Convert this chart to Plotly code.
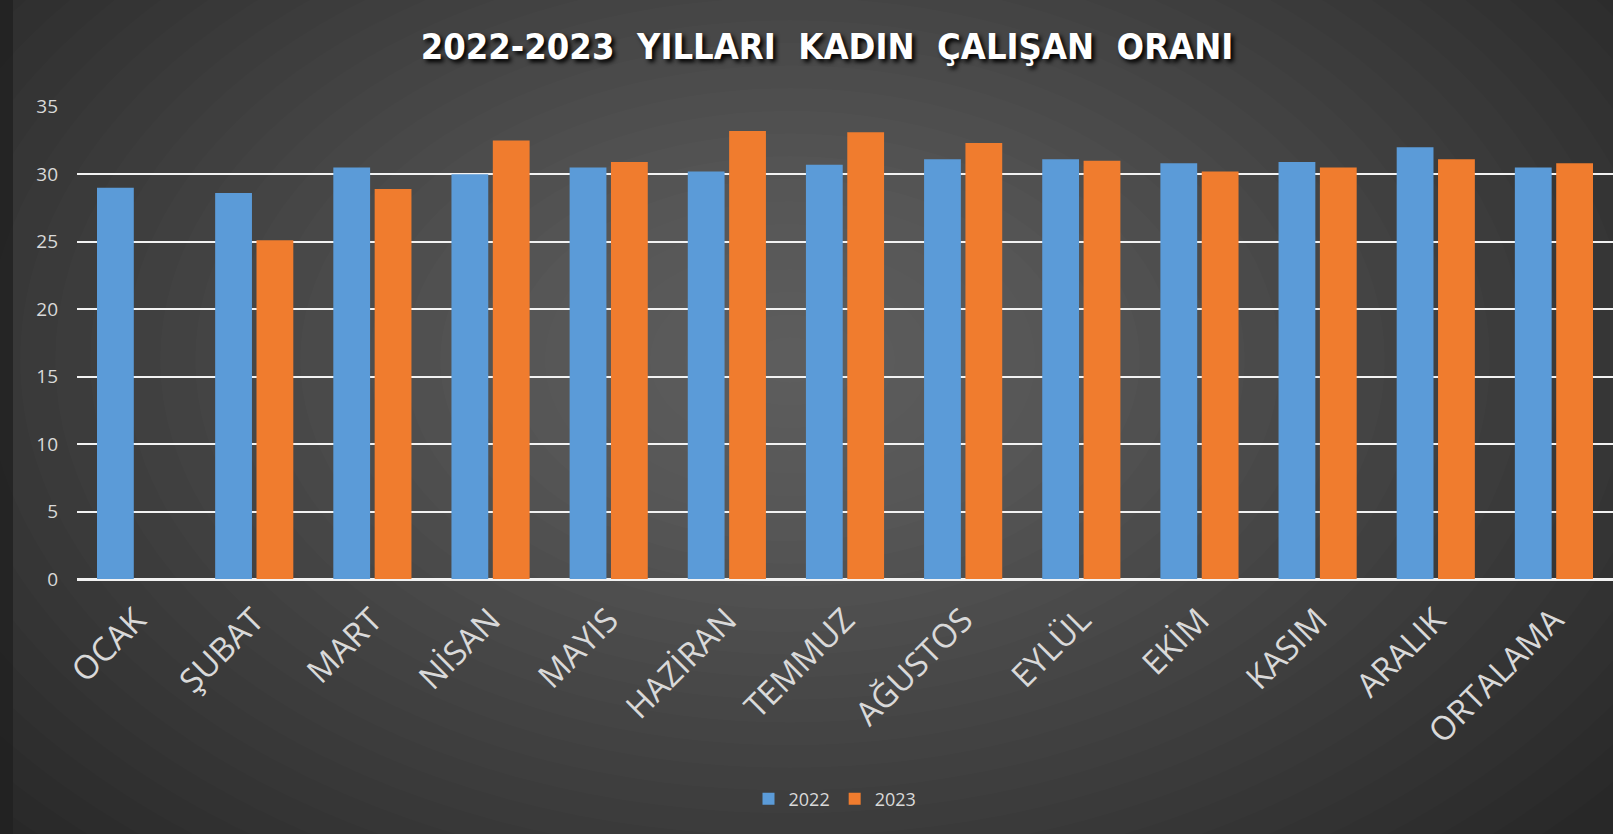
import plotly.graph_objects as go

# ---------------- DATA ----------------
months = ["OCAK", "ŞUBAT", "MART", "NİSAN", "MAYIS", "HAZİRAN", "TEMMUZ",
          "AĞUSTOS", "EYLÜL", "EKİM", "KASIM", "ARALIK", "ORTALAMA"]
rate_2022 = [29.0, 28.6, 30.5, 30.0, 30.5, 30.2, 30.7, 31.1, 31.1, 30.8, 30.9, 32.0, 30.5]
rate_2023 = [None, 25.1, 28.9, 32.5, 30.9, 33.2, 33.1, 32.3, 31.0, 30.2, 30.5, 31.1, 30.8]
y_ticks = [0, 5, 10, 15, 20, 25, 30, 35]

W, H = 1613, 834
L, R, T, B = 77, 0, 106, 255
PW, PH = W - L - R, H - T - B


def px(x):
    return (x - L) / PW


def py(y):
    return (H - B - y) / PH


fig = go.Figure()

fig.add_trace(go.Bar(x=months, y=rate_2022, name="2022",
                     marker=dict(color="#5b9bd8", line=dict(width=0))))
fig.add_trace(go.Bar(x=months, y=rate_2023, name="2023",
                     marker=dict(color="#f07c2e", line=dict(width=0))))

# ---------------- BACKGROUND GLOW ----------------
shapes = []
n = 30
cx, cy = 790, 360
for i in range(n):
    f = 1 - i / n
    rx, ry = 1050 * f, 680 * f
    shapes.append(dict(
        type="circle", xref="paper", yref="paper",
        x0=px(cx - rx), x1=px(cx + rx), y0=py(cy + ry), y1=py(cy - ry),
        fillcolor="white", opacity=0.012, line=dict(width=0), layer="below"
    ))
shapes.append(dict(type="rect", xref="paper", yref="paper",
                   x0=px(0), x1=px(13), y0=py(H), y1=py(0),
                   fillcolor="#202020", opacity=0.8, line=dict(width=0), layer="below"))

fig.update_layout(
    width=W, height=H,
    margin=dict(l=L, r=R, t=T, b=B),
    paper_bgcolor="#282828",
    plot_bgcolor="rgba(0,0,0,0)",
    font=dict(family="Open Sans", color="#d9d9d9"),
    title=dict(
        text="2022-2023  YILLARI  KADIN  ÇALIŞAN  ORANI",
        x=827 / W, xref="container", xanchor="center",
        y=1 - 46 / H, yref="container", yanchor="middle",
        font=dict(family="DejaVu Sans Condensed", size=36, color="white",
                  weight="bold", shadow="3px 3px 4px #000000")
    ),
    barmode="group",
    bargap=0.3,
    bargroupgap=0.11,
    showlegend=True,
    legend=dict(orientation="h", x=px(835), xanchor="center",
                y=py(799), yanchor="middle", bgcolor="rgba(0,0,0,0)",
                font=dict(size=18, color="#d9d9d9"), itemwidth=30),
    xaxis=dict(tickangle=-45, tickfont=dict(size=33, color="#d9d9d9"),
               ticklabelstandoff=14, showgrid=False, showline=False),
    yaxis=dict(range=[0, 35.05], tickvals=y_ticks, showgrid=True,
               gridcolor="#f2f2f2", gridwidth=2, zeroline=True,
               zerolinecolor="#f2f2f2", zerolinewidth=3,
               tickfont=dict(size=19, color="#d9d9d9"), ticklabelstandoff=18),
    shapes=shapes,
)

fig.write_html("out.html", config={"displayModeBar": False},
               post_script="document.body.style.margin='0';")
